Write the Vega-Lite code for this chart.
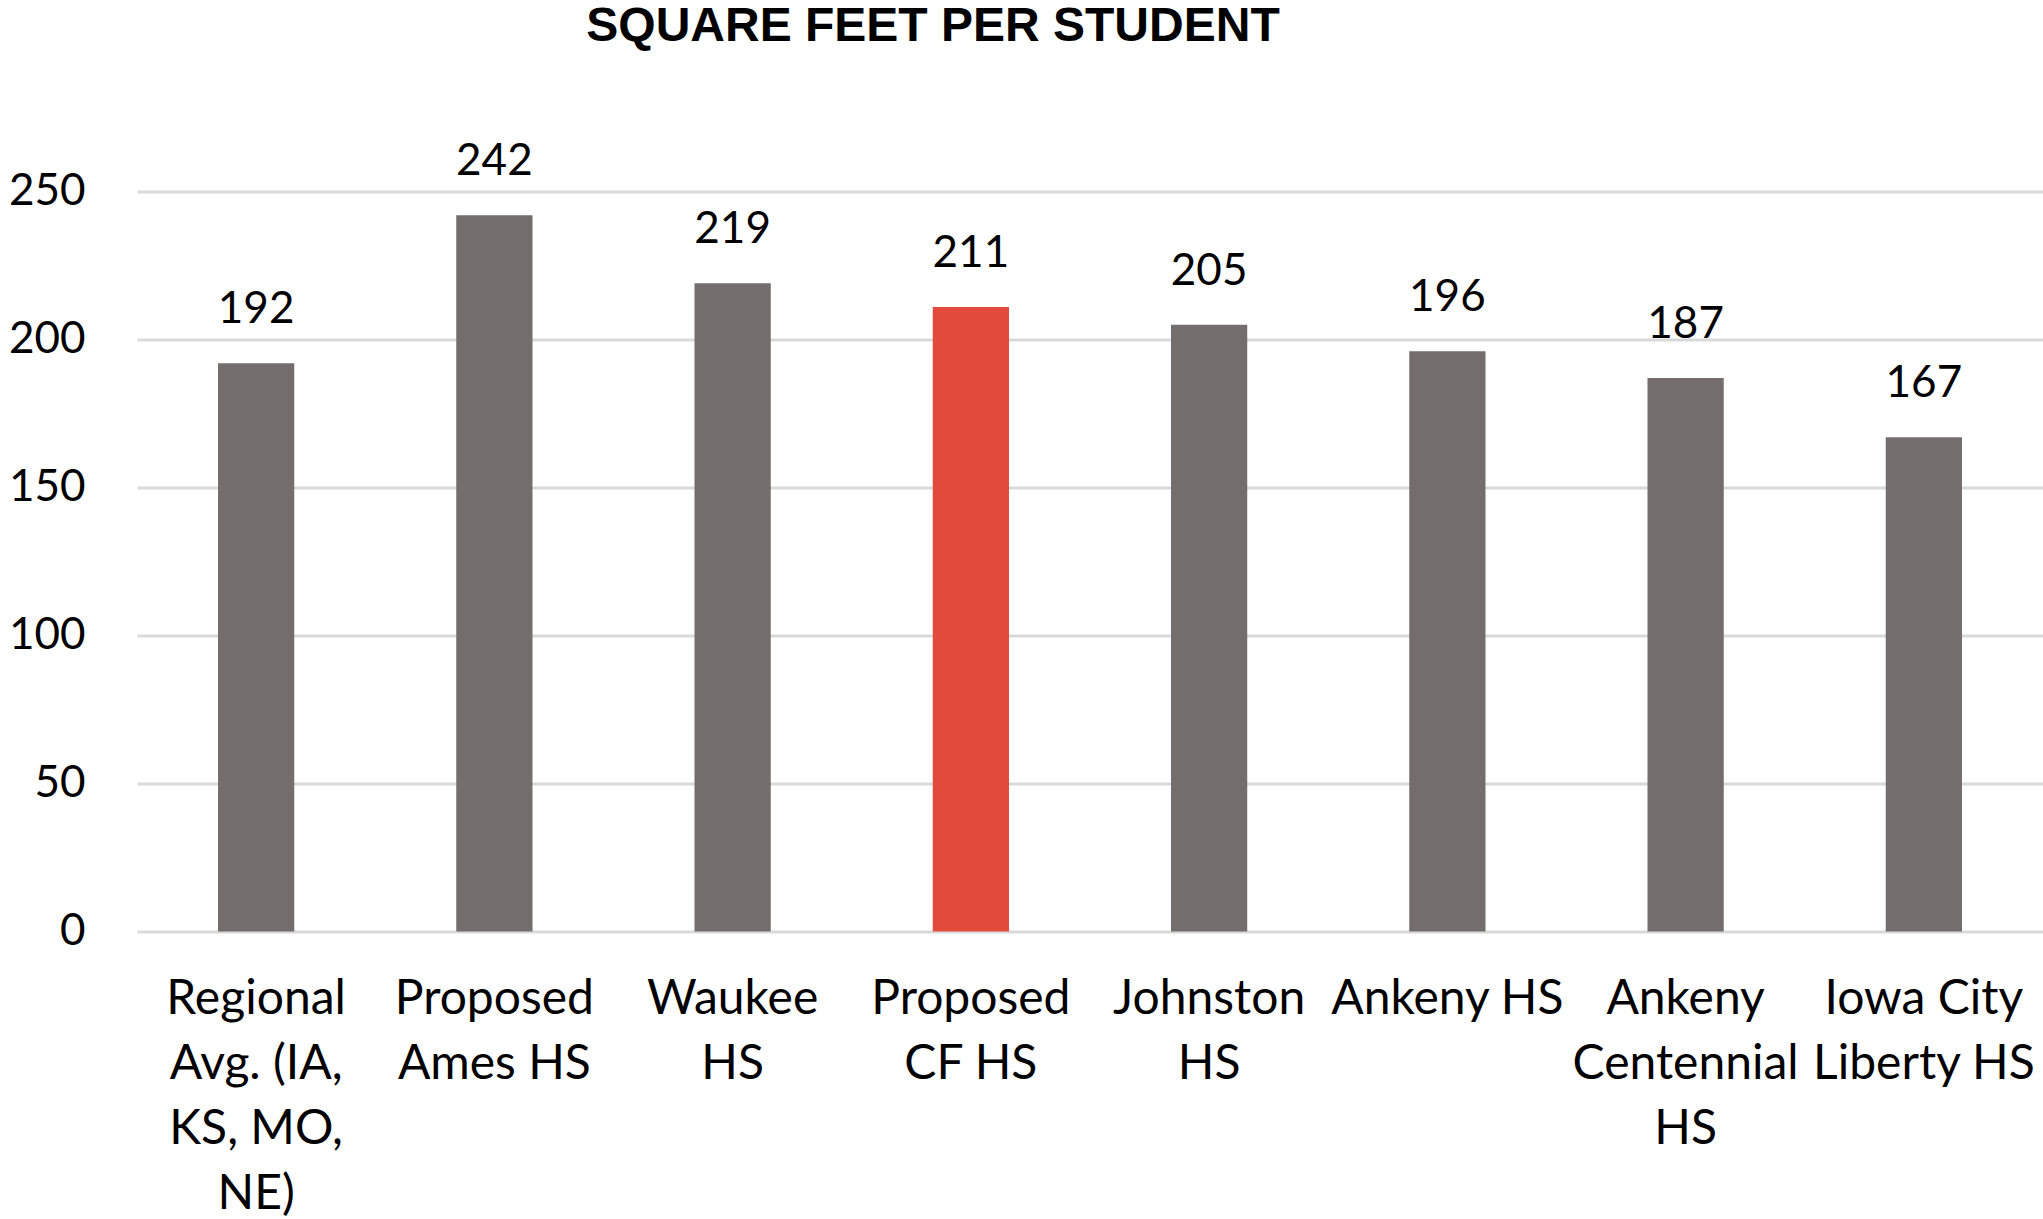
{
  "$schema": "https://vega.github.io/schema/vega-lite/v6.json",
  "autosize": {"type": "none"},
  "width": 1906,
  "height": 740,
  "padding": {"left": 137, "top": 191.5, "right": 0, "bottom": 287.5},
  "background": "white",
  "config": {"view": {"stroke": null}},
  "title": {
    "text": "SQUARE FEET PER STUDENT",
    "font": "Liberation Sans",
    "fontSize": 48,
    "fontWeight": "bold",
    "color": "#000000",
    "anchor": "middle",
    "frame": "group",
    "dx": -157,
    "baseline": "alphabetic",
    "offset": 51
  },
  "data": {
    "values": [
      {"school": "Regional Avg. (IA, KS, MO, NE)", "sqft": 192},
      {"school": "Proposed Ames HS", "sqft": 242},
      {"school": "Waukee HS", "sqft": 219},
      {"school": "Proposed CF HS", "sqft": 211},
      {"school": "Johnston HS", "sqft": 205},
      {"school": "Ankeny HS", "sqft": 196},
      {"school": "Ankeny Centennial HS", "sqft": 187},
      {"school": "Iowa City Liberty HS", "sqft": 167}
    ]
  },
  "encoding": {
    "x": {
      "field": "school",
      "type": "nominal",
      "sort": null,
      "scale": {"paddingInner": 0.68, "paddingOuter": 0.34},
      "axis": {
        "title": null,
        "labelAngle": 0,
        "ticks": false,
        "domain": false,
        "labelFont": "Lato",
        "labelFontSize": 48,
        "labelColor": "#000000",
        "labelLineHeight": 65,
        "labelBaseline": "top",
        "labelPadding": 44,
        "labelLimit": 0,
        "labelOverlap": false,
        "labelExpr": "datum.value === 'Regional Avg. (IA, KS, MO, NE)' ? ['Regional', 'Avg. (IA,', 'KS, MO,', 'NE)'] : datum.value === 'Proposed Ames HS' ? ['Proposed', 'Ames HS'] : datum.value === 'Waukee HS' ? ['Waukee', 'HS'] : datum.value === 'Proposed CF HS' ? ['Proposed', 'CF  HS'] : datum.value === 'Johnston HS' ? ['Johnston', 'HS'] : datum.value === 'Ankeny Centennial HS' ? ['Ankeny', 'Centennial', 'HS'] : datum.value === 'Iowa City Liberty HS' ? ['Iowa City', 'Liberty HS'] : datum.value"
      }
    },
    "y": {
      "field": "sqft",
      "type": "quantitative",
      "scale": {"domain": [0, 250], "nice": false},
      "axis": {
        "title": null,
        "values": [0, 50, 100, 150, 200, 250],
        "ticks": false,
        "domain": false,
        "grid": true,
        "gridColor": "#D9D9D9",
        "gridWidth": 3,
        "labelFont": "Lato",
        "labelFontSize": 44,
        "labelColor": "#000000",
        "labelPadding": 52
      }
    }
  },
  "layer": [
    {
      "mark": {"type": "bar"},
      "encoding": {
        "color": {
          "condition": {"test": "datum.school === 'Proposed CF HS'", "value": "#E24A3B"},
          "value": "#736E6D"
        }
      }
    },
    {
      "mark": {"type": "text", "dy": -40, "baseline": "alphabetic", "font": "Lato", "fontSize": 44, "color": "#000000"},
      "encoding": {"text": {"field": "sqft", "type": "quantitative"}}
    }
  ]
}
